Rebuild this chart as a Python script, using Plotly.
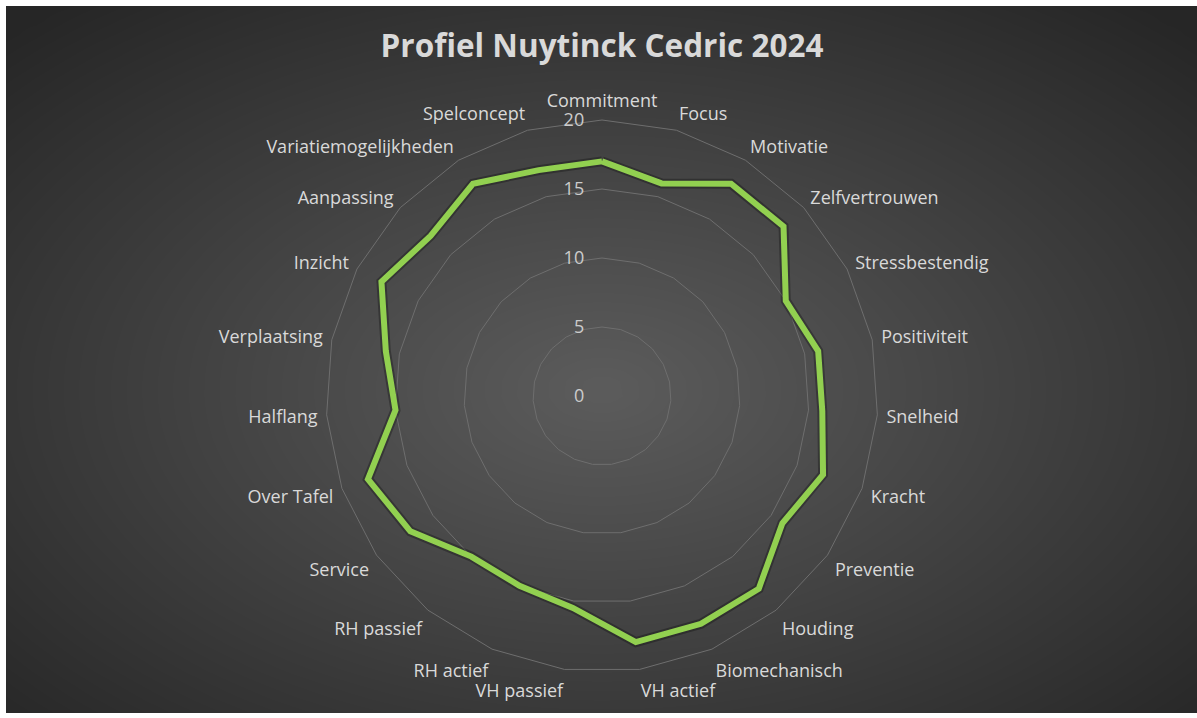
import numpy as np
import plotly.graph_objects as go

title_text = "Profiel Nuytinck Cedric 2024"
categories = ["Commitment", "Focus", "Motivatie", "Zelfvertrouwen", "Stressbestendig",
              "Positiviteit", "Snelheid", "Kracht", "Preventie", "Houding",
              "Biomechanisch", "VH actief", "VH passief", "RH actief", "RH passief",
              "Service", "Over Tafel", "Halflang", "Verplaatsing", "Inzicht",
              "Aanpassing", "Variatiemogelijkheden", "Spelconcept"]
scores = [17, 16, 18, 18, 15, 16, 16, 17, 16, 18, 18, 18, 15.5, 15, 15,
          17, 18, 15, 16, 18, 17, 18, 17]
radial_ticks = [0, 5, 10, 15, 20]

W, H = 1197, 718
ml, mr, mt, mb = 6, 0, 6, 5
pw, ph = W - ml - mr, H - mt - mb

# background radial gradient (style only)
gx = np.linspace(0, pw, 80)
gy = np.linspace(0, ph, 50)
X, Y = np.meshgrid(gx, gy)
cx, cy = pw / 2, ph / 2 + 30
t = np.sqrt(((X - cx) / (pw / 2)) ** 2 + ((Y - cy) / (ph / 2)) ** 2) / np.sqrt(2)
t = np.clip(t, 0, 1)
Z = 1 - t

fig = go.Figure()
fig.add_trace(go.Heatmap(x=gx, y=gy, z=Z, zsmooth="best", showscale=False,
                         colorscale=[[0, "#262626"], [1, "#5c5c5c"]],
                         zmin=0, zmax=1, hoverinfo="skip",
                         xaxis="x", yaxis="y"))

theta = categories + [categories[0]]
r = scores + [scores[0]]
fig.add_trace(go.Scatterpolar(r=r, theta=theta, mode="lines",
                              line=dict(color="rgba(0,0,0,0.28)", width=10),
                              hoverinfo="skip", showlegend=False))
fig.add_trace(go.Scatterpolar(r=r, theta=theta, mode="lines",
                              line=dict(color="#92d050", width=6),
                              showlegend=False, name="2024"))

cxp, cyp, R = 602, 396, 276
dx0 = (cxp - R - ml) / pw
dx1 = (cxp + R - ml) / pw
dy0 = (H - mb - (cyp + R)) / ph
dy1 = (H - mb - (cyp - R)) / ph

FONT = "Open Sans"
fig.update_layout(
    width=W, height=H,
    margin=dict(l=ml, r=mr, t=mt, b=mb, pad=0),
    paper_bgcolor="white",
    plot_bgcolor="rgba(0,0,0,0)",
    showlegend=False,
    xaxis=dict(range=[gx[0], gx[-1]], visible=False, domain=[0, 1], fixedrange=True),
    yaxis=dict(range=[gy[-1], gy[0]], visible=False, domain=[0, 1], fixedrange=True),
    title=dict(text="<b>" + title_text + "</b>", x=(602) / W, xanchor="center",
               y=1 - 46 / H, yanchor="middle",
               font=dict(family=FONT, size=31.5, color="#d9d9d9")),
    polar=dict(
        domain=dict(x=[dx0, dx1], y=[dy0, dy1]),
        bgcolor="rgba(0,0,0,0)",
        gridshape="linear",
        radialaxis=dict(range=[0, 20], tickvals=radial_ticks, angle=90,
                        side="counterclockwise", showline=False, tickangle=90,
                        ticks="outside", ticklen=11, tickcolor="rgba(0,0,0,0)",
                        gridcolor="#6e6e6e", gridwidth=1,
                        tickfont=dict(family=FONT, size=18, color="#cccccc")),
        angularaxis=dict(rotation=90, direction="clockwise", showgrid=False,
                         showline=True, linecolor="#6e6e6e", linewidth=1,
                         ticks="outside", ticklen=5, tickcolor="rgba(0,0,0,0)",
                         tickfont=dict(family=FONT, size=18, color="#d9d9d9")),
    ),
)

fig.write_html("out.html", config={"displayModeBar": False},
               post_script="document.body.style.margin='0px';")
